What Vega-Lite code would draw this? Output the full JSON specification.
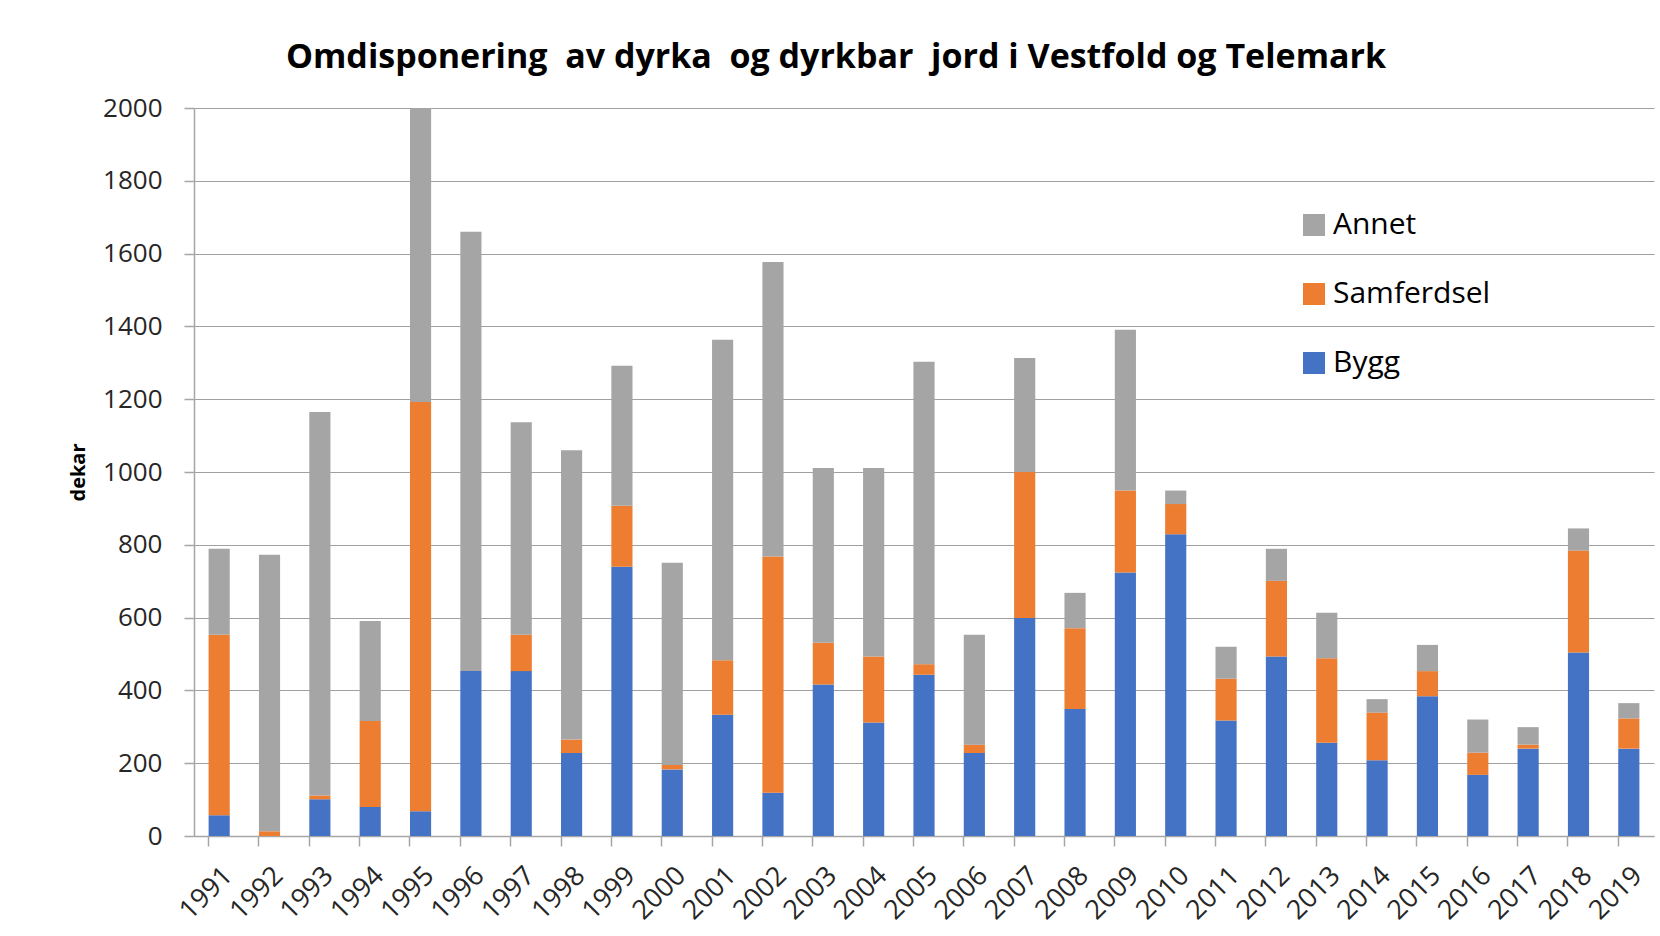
{
  "$schema": "https://vega.github.io/schema/vega-lite/v6.json",
  "width": 1460,
  "height": 728,
  "autosize": {"type": "none"},
  "padding": {"left": 194, "top": 108, "right": 6, "bottom": 100},
  "background": "white",
  "title": {
    "text": "Omdisponering\u00a0 av dyrka\u00a0 og dyrkbar\u00a0 jord i Vestfold og Telemark",
    "font": "Open Sans",
    "fontSize": 34,
    "fontWeight": "bold",
    "color": "#000000",
    "anchor": "middle",
    "dx": -88,
    "offset": 20
  },
  "data": {
    "values": [
      {"year": "1991", "Bygg": 57, "Samferdsel": 496, "Annet": 236},
      {"year": "1992", "Bygg": 0, "Samferdsel": 13, "Annet": 760},
      {"year": "1993", "Bygg": 101, "Samferdsel": 10, "Annet": 1054},
      {"year": "1994", "Bygg": 80, "Samferdsel": 236, "Annet": 275},
      {"year": "1995", "Bygg": 68, "Samferdsel": 1124, "Annet": 808},
      {"year": "1996", "Bygg": 453, "Samferdsel": 0, "Annet": 1207},
      {"year": "1997", "Bygg": 453, "Samferdsel": 100, "Annet": 584},
      {"year": "1998", "Bygg": 228, "Samferdsel": 37, "Annet": 795},
      {"year": "1999", "Bygg": 740, "Samferdsel": 167, "Annet": 385},
      {"year": "2000", "Bygg": 183, "Samferdsel": 12, "Annet": 556},
      {"year": "2001", "Bygg": 333, "Samferdsel": 150, "Annet": 880},
      {"year": "2002", "Bygg": 119, "Samferdsel": 649, "Annet": 809},
      {"year": "2003", "Bygg": 416, "Samferdsel": 115, "Annet": 480},
      {"year": "2004", "Bygg": 312, "Samferdsel": 181, "Annet": 518},
      {"year": "2005", "Bygg": 443, "Samferdsel": 29, "Annet": 831},
      {"year": "2006", "Bygg": 228, "Samferdsel": 23, "Annet": 302},
      {"year": "2007", "Bygg": 599, "Samferdsel": 401, "Annet": 313},
      {"year": "2008", "Bygg": 349, "Samferdsel": 222, "Annet": 97},
      {"year": "2009", "Bygg": 724, "Samferdsel": 225, "Annet": 442},
      {"year": "2010", "Bygg": 829, "Samferdsel": 83, "Annet": 37},
      {"year": "2011", "Bygg": 317, "Samferdsel": 115, "Annet": 88},
      {"year": "2012", "Bygg": 493, "Samferdsel": 208, "Annet": 88},
      {"year": "2013", "Bygg": 256, "Samferdsel": 232, "Annet": 125},
      {"year": "2014", "Bygg": 208, "Samferdsel": 131, "Annet": 37},
      {"year": "2015", "Bygg": 384, "Samferdsel": 69, "Annet": 72},
      {"year": "2016", "Bygg": 168, "Samferdsel": 61, "Annet": 91},
      {"year": "2017", "Bygg": 240, "Samferdsel": 11, "Annet": 48},
      {"year": "2018", "Bygg": 504, "Samferdsel": 280, "Annet": 61},
      {"year": "2019", "Bygg": 240, "Samferdsel": 83, "Annet": 42}
    ]
  },
  "transform": [
    {"fold": ["Bygg", "Samferdsel", "Annet"], "as": ["type", "value"]},
    {"window": [{"op": "row_number", "as": "k"}], "groupby": ["year"]}
  ],
  "mark": {"type": "bar"},
  "encoding": {
    "x": {
      "field": "year",
      "type": "ordinal",
      "scale": {"paddingInner": 0.58, "paddingOuter": 0.29},
      "axis": {
        "title": null,
        "labelAngle": -45,
        "labelFont": "Open Sans",
        "labelFontSize": 27,
        "labelColor": "#262626",
        "labelPadding": 16,
        "bandPosition": 0,
        "ticks": true,
        "tickSize": 10,
        "tickColor": "#a6a6a6",
        "tickWidth": 1.5,
        "domainColor": "#a6a6a6",
        "domainWidth": 1.5,
        "grid": false
      }
    },
    "y": {
      "field": "value",
      "type": "quantitative",
      "stack": "zero",
      "scale": {"domain": [0, 2000], "nice": false},
      "axis": {
        "title": "dekar",
        "titleFont": "Open Sans",
        "titleFontSize": 20,
        "titleFontWeight": "bold",
        "titleColor": "#000000",
        "titlePadding": 14,
        "format": "d",
        "values": [0, 200, 400, 600, 800, 1000, 1200, 1400, 1600, 1800, 2000],
        "labelFont": "Open Sans",
        "labelFontSize": 26,
        "labelColor": "#262626",
        "labelPadding": 22,
        "ticks": true,
        "tickSize": 10,
        "tickColor": "#a6a6a6",
        "tickWidth": 1.5,
        "domain": true,
        "domainColor": "#a6a6a6",
        "domainWidth": 1.5,
        "grid": true,
        "gridColor": "#a0a0a0",
        "gridWidth": 1.2
      }
    },
    "order": {"field": "k", "type": "quantitative", "sort": "ascending"},
    "color": {
      "field": "type",
      "type": "nominal",
      "scale": {
        "domain": ["Bygg", "Samferdsel", "Annet"],
        "range": ["#4472C4", "#ED7D31", "#A5A5A5"]
      },
      "legend": {
        "title": null,
        "values": ["Annet", "Samferdsel", "Bygg"],
        "orient": "none",
        "legendX": 1105,
        "legendY": 102,
        "symbolType": "square",
        "symbolSize": 484,
        "symbolStrokeWidth": 0,
        "labelFont": "Open Sans",
        "labelFontSize": 30,
        "labelColor": "#000000",
        "labelOffset": 4,
        "rowPadding": 39
      }
    }
  },
  "config": {"view": {"stroke": null}}
}
